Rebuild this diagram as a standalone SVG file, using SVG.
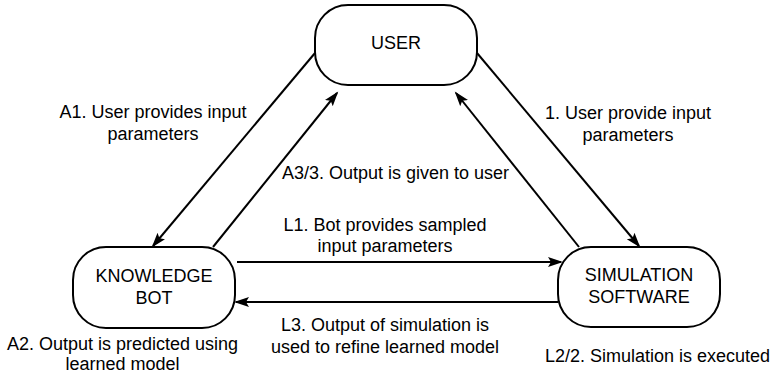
<svg xmlns="http://www.w3.org/2000/svg" width="777" height="375" viewBox="0 0 777 375">
<defs>
<style>
.node rect{fill:#fff;stroke:#000;stroke-width:2}
text{font-family:"Liberation Sans",Arial,Helvetica,sans-serif;font-size:18px;fill:#000;text-anchor:middle}
.edge{fill:none;stroke:#000;stroke-width:2;marker-end:url(#arr)}
</style>
<marker id="arr" markerUnits="userSpaceOnUse" markerWidth="16" markerHeight="12" viewBox="0 0 16 12" refX="13" refY="6" orient="auto">
<path d="M0,1 L15,6 L0,11 L3,6 z" fill="#000"/>
</marker>
</defs>
<rect width="777" height="375" fill="#fff"/>
<g id="connectors">
<path class="edge" d="M315,53 L153,246"/>
<path class="edge" d="M477,53 L639,246"/>
<path class="edge" d="M213,247 L337,93"/>
<path class="edge" d="M579,247 L456,93"/>
<path class="edge" d="M237,262 L561,262"/>
<path class="edge" d="M558,302 L236,302"/>
</g>
<g id="labels">
<text x="153" y="118">A1. User provides input</text>
<text x="153" y="140">parameters</text>
<text x="628" y="119">1. User provide input</text>
<text x="628" y="141">parameters</text>
<text x="395.5" y="179">A3/3. Output is given to user</text>
<text x="385" y="231">L1. Bot provides sampled</text>
<text x="385" y="252">input parameters</text>
<text x="385" y="331">L3. Output of simulation is</text>
<text x="385" y="353">used to refine learned model</text>
<text x="122.5" y="350">A2. Output is predicted using</text>
<text x="122.5" y="370">learned model</text>
<text x="657.5" y="362">L2/2. Simulation is executed</text>
</g>
<g id="user" class="node">
<rect x="315" y="5" width="162" height="80" rx="33" ry="33"/>
<text x="396" y="48.5">USER</text>
</g>
<g id="knowledge-bot" class="node">
<rect x="73" y="247" width="162" height="81" rx="33" ry="33"/>
<text x="154" y="281.5">KNOWLEDGE</text>
<text x="154" y="303.5">BOT</text>
</g>
<g id="simulation-software" class="node">
<rect x="558" y="247" width="162" height="80" rx="33" ry="33"/>
<text x="639" y="281">SIMULATION</text>
<text x="639" y="303">SOFTWARE</text>
</g>
</svg>
